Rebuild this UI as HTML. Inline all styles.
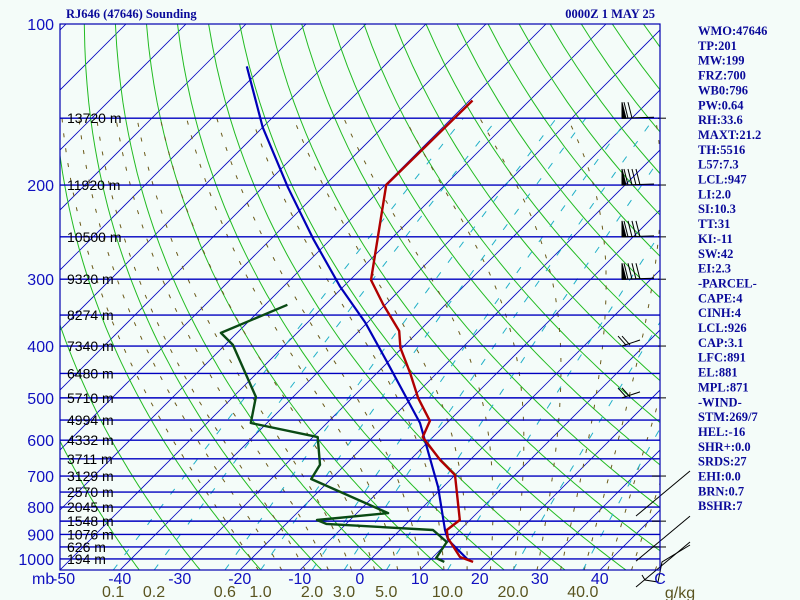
<!DOCTYPE html>
<html><head><meta charset="utf-8"><style>
html,body{margin:0;padding:0;background:#f4fcf9;}
svg{display:block;}
.t{font-family:"Liberation Serif",serif;font-weight:bold;font-size:12.5px;fill:#0a0a9a;}
</style></head><body>
<svg id="chart" width="800" height="600" xmlns="http://www.w3.org/2000/svg">
<rect width="800" height="600" fill="#f4fcf9"/>
<defs><clipPath id="plotclip"><rect x="60" y="24" width="600" height="546"/></clipPath></defs>
<g id="grid" clip-path="url(#plotclip)"></g>
<g id="data" clip-path="url(#plotclip)"></g>
<g id="barbs"></g>
<rect x="60" y="24" width="600" height="546" fill="none" stroke="#0000b0" stroke-width="1.2"/>
<text class="t" x="66" y="18">RJ646 (47646) Sounding</text>
<text class="t" x="655" y="18" text-anchor="end">0000Z  1 MAY 25</text>
<g id="labels"></g>
<g id="stats"></g>
</svg>
<script>
// ---- data ----
const tempP = [139,200,301,335,375,403,449,500,552,592,607,653,697,846,883,914,992,1013];
const tempT = [-59.5,-59.8,-46.5,-40.3,-33.3,-30.3,-24.5,-19,-13.2,-11.7,-10,-5,0,8.3,7.8,9.3,14.5,17.5];
const dewP = [335,378,398,498,557,592,667,709,821,846,860,883,930,996,1013];
const dewT = [-56.3,-62.7,-58.7,-46.2,-42.7,-29.2,-24.2,-23.3,-4.8,-15.5,-13.3,5.5,9.8,10.7,12.7];
const parcelP = [120,133,156,202,253,310,362,428,557,734,883,922,1004];
const parcelT = [-102.8,-97.8,-90,-75.8,-62.8,-50.5,-40.3,-30.2,-14.5,-0.8,7.5,9.7,16.3];
const pressureLabels = [100,200,300,400,500,600,700,800,900,1000];
const isobars = [150,200,250,300,350,400,450,500,550,600,650,700,750,800,850,900,950,1000];
const heightP = [150,200,250,300,350,400,450,500,550,600,650,700,750,800,850,900,950,1000];
const heightLabels = ["13720 m","11920 m","10500 m","9320 m","8274 m","7340 m","6480 m","5710 m","4994 m","4332 m","3711 m","3129 m","2570 m","2045 m","1548 m","1076 m","626 m","194 m"];
const tempTicks = [-40,-30,-20,-10,0,10,20,30,40];
const mixRatios = [0.1,0.2,0.6,1,2,3,5,10,20,40];
const mixLabels = ["0.1","0.2","0.6","1.0","2.0","3.0","5.0","10.0","20.0","40.0"];
const stats = ["WMO:47646","TP:201","MW:199","FRZ:700","WB0:796","PW:0.64","RH:33.6","MAXT:21.2","TH:5516","L57:7.3","LCL:947","LI:2.0","SI:10.3","TT:31","KI:-11","SW:42","EI:2.3","-PARCEL-","CAPE:4","CINH:4","LCL:926","CAP:3.1","LFC:891","EL:881","MPL:871","-WIND-","STM:269/7","HEL:-16","SHR+:0.0","SRDS:27","EHI:0.0","BRN:0.7","BSHR:7"];
const barbP = [150,200,250,300,400,500];

// ---- axes ----
const NS="http://www.w3.org/2000/svg";
function yP(p){return 24+232.3*Math.log(p/100);}
function xT(T,p){return 60+(T+50)*6+(570-yP(p));}
function mk(tag,attrs,parent){const e=document.createElementNS(NS,tag);for(const k in attrs)e.setAttribute(k,attrs[k]);parent.appendChild(e);return e;}
const grid=document.getElementById('grid'),data=document.getElementById('data'),labels=document.getElementById('labels');
function es(Tc){return 6.112*Math.exp(17.67*Tc/(Tc+243.5));}

// isotherms
for(let T=-160;T<=50;T+=10){
  const l=mk('line',{x1:xT(T,1050),y1:yP(1050),x2:xT(T,100),y2:yP(100),stroke:'#0000c0','stroke-width':0.8},grid);
  
  
}
// dry adiabats
for(let th=-40;th<=200;th+=10){
  let d='';
  for(let p=1050;p>=100;p-=10){const T=(th+273.15)*Math.pow(p/1000,0.286)-273.15;d+=(d?'L':'M')+xT(T,p).toFixed(1)+','+yP(p).toFixed(1);}
  const e=mk('path',{d:d,fill:'none',stroke:'#22bb22','stroke-width':1},grid);
  
  
}
// moist adiabats
function moistPath(T0){
  let T=T0+273.15,p=1000;
  function step(dir){let TT=T,pp=p,arr=[];for(let i=0;i<200;i++){const Tc=TT-273.15;const e=es(Tc);const rs=0.622*e/(pp-e);
    const g=(287*TT+2.5e6*rs)/(1004+2.5e6*2.5e6*rs*0.622/(287*TT*TT));const dp=dir*5;const dlnp=Math.log((pp+dp)/pp);TT+=g*dlnp;pp+=dp;arr.push([pp,TT-273.15]);
    if(pp<=150||pp>=1050)break;}return arr;}
  const up=step(-1),down=step(1).reverse();
  return down.concat([[1000,T0]]).concat(up);
}
for(let T0=-20;T0<=48;T0+=4){
  const pts=moistPath(T0);let d='';
  pts.forEach(q=>{d+=(d?'L':'M')+xT(q[1],q[0]).toFixed(1)+','+yP(q[0]).toFixed(1);});
  const e=mk('path',{d:d,fill:'none',stroke:'#6b5a1a','stroke-width':1,'stroke-dasharray':'4,11'},grid);
  
  
}
// mixing ratio lines
function tdFromW(w,p){const e=w*p/(622+w);const a=Math.log(e/6.112);return 243.5*a/(17.67-a);}
mixRatios.forEach((w,i)=>{
  let d='';for(let p=1050;p>=150;p-=10){d+=(d?'L':'M')+xT(tdFromW(w,p),p).toFixed(1)+','+yP(p).toFixed(1);}
  const e=mk('path',{d:d,fill:'none',stroke:'#22b0c8','stroke-width':1,'stroke-dasharray':'7,12'},grid);
  
  
  const t=mk('text',{x:xT(tdFromW(w,1050),1050),y:597,'text-anchor':'middle','font-family':'Liberation Sans, sans-serif','font-size':16,fill:'#5a5420'},labels);
  t.textContent=mixLabels[i];
  
  
});
// isobars
isobars.forEach(p=>{
  const e=mk('line',{x1:60,x2:660,y1:yP(p),y2:yP(p),stroke:'#0000c0','stroke-width':1.4},grid);
  
  
});
// series
function series(P,T,color,name,w){
  let d='';P.forEach((p,i)=>{d+=(d?'L':'M')+xT(T[i],p).toFixed(1)+','+yP(p).toFixed(1);});
  const e=mk('path',{d:d,fill:'none',stroke:color,'stroke-width':w,'stroke-linejoin':'round'},data);
  
  
}
series(parcelP,parcelT,'#0000b8','parcel-line',2.2);
series(dewP,dewT,'#0a4a14','dewpoint-line',2.4);
series(tempP,tempT,'#b00000','temperature-line',2.4);

// labels
pressureLabels.forEach(p=>{
  const t=mk('text',{x:54,y:yP(p)+6,'text-anchor':'end','font-family':'Liberation Sans, sans-serif','font-size':16,fill:'#1010c0'},labels);
  t.textContent=p;
  
  
});
heightP.forEach((p,i)=>{
  const t=mk('text',{x:67,y:yP(p)+5,'font-family':'Liberation Sans, sans-serif','font-size':14,fill:'#000'},labels);
  t.textContent=heightLabels[i];
  
  
});
{const t=mk('text',{x:32,y:584,'font-family':'Liberation Sans, sans-serif','font-size':16,fill:'#1010c0'},labels);t.textContent='mb';


const t2=mk('text',{x:52,y:584,'font-family':'Liberation Sans, sans-serif','font-size':16,fill:'#1010c0'},labels);t2.textContent='-50';


const t3=mk('text',{x:660,y:584,'text-anchor':'middle','font-family':'Liberation Sans, sans-serif','font-size':16,fill:'#1010c0'},labels);t3.textContent='C';


const t4=mk('text',{x:680,y:598,'text-anchor':'middle','font-family':'Liberation Sans, sans-serif','font-size':16,fill:'#5a5420'},labels);t4.textContent='g/kg';

}
tempTicks.forEach(T=>{
  const t=mk('text',{x:xT(T,1050),y:584,'text-anchor':'middle','font-family':'Liberation Sans, sans-serif','font-size':16,fill:'#1010c0'},labels);
  t.textContent=T;
  
  
});
// stats
const sg=document.getElementById('stats');
stats.forEach((s,i)=>{
  const t=mk('text',{x:698,y:35+i*14.85,class:'t'},sg);
  t.textContent=s;
  
  
});
// wind barbs
const bg=document.getElementById('barbs');
barbP.forEach((p,i)=>{
  const y=yP(p);const x0=622,big=i<4;
  const g=mk('g',{stroke:'#000','stroke-width':1,fill:'#000'},bg);
  
  
  mk('line',{x1:x0,y1:y,x2:big?654:640,y2:y-(big?1:6)},g);
  if(big){mk('polygon',{points:`${x0},${y} ${x0+4},${y} ${x0},${y-16}`},g);
    for(let k=0;k<(i===0?2:4);k++)mk('line',{x1:x0+6+k*4,y1:y,x2:x0+2+k*4,y2:y-16},g);}
  else{for(let k=0;k<2;k++)mk('line',{x1:x0+4+k*4,y1:y-1,x2:x0-4+k*4,y2:y-10},g);}
  mk('line',{x1:658,x2:666,y1:y,y2:y},g);
});
[[yP(700)],[yP(850)],[yP(950)]].forEach((b,i)=>{
  const g=mk('g',{stroke:'#000','stroke-width':1},bg);
  
  
  mk('line',{x1:652,x2:666,y1:b[0],y2:b[0]},g);
  mk('line',{x1:690,y1:b[0]-5,x2:636,y2:b[0]+40},g);
});
{const g=mk('g',{stroke:'#000','stroke-width':1,fill:'none'},bg);


mk('polyline',{points:'690,545 662,562 658,582 645,580 642,575'},g);}
</script>
</body></html>
